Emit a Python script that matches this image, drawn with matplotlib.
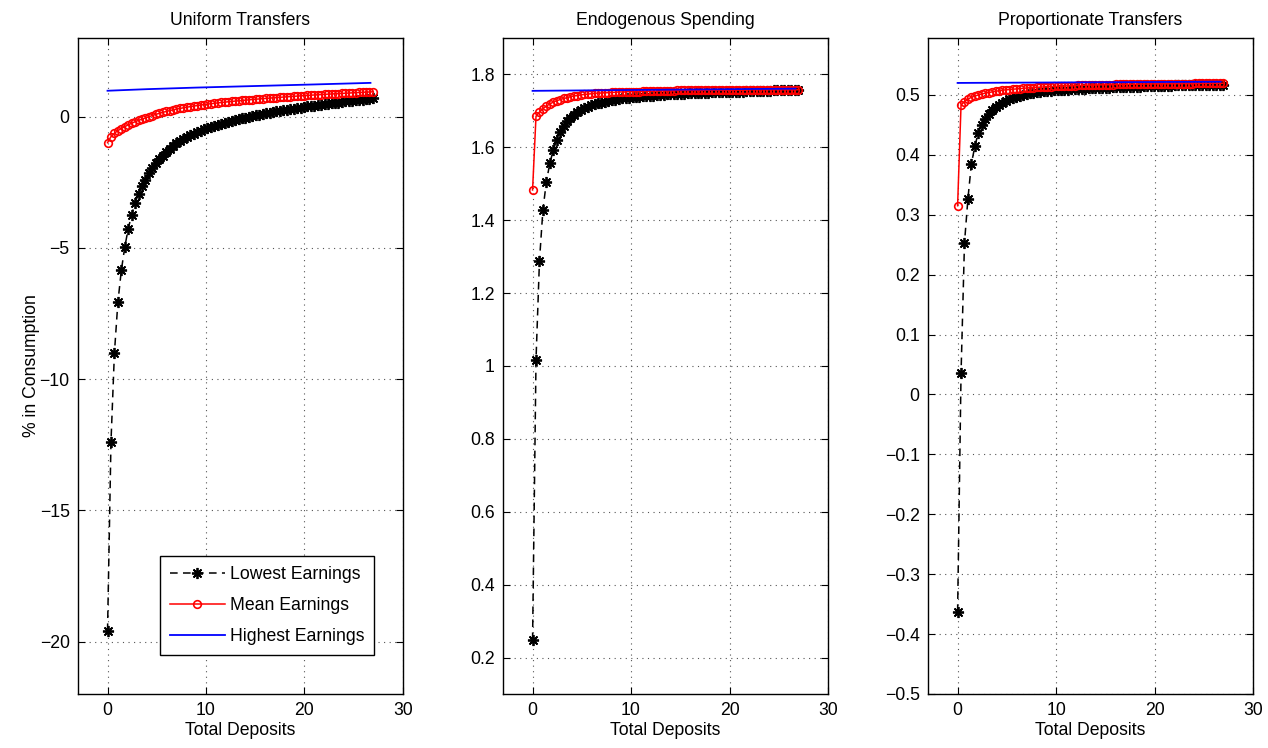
import numpy as np
import matplotlib
matplotlib.use("Agg")
import matplotlib.pyplot as plt
from matplotlib.ticker import FuncFormatter

plt.rcParams['font.family'] = ['Liberation Sans', 'DejaVu Sans']
plt.rcParams['axes.unicode_minus'] = True

# x grid: total deposits (same grid in all panels)
deposits = np.round(np.arange(0, 27.0, 0.35), 2)

titles = ["Uniform Transfers", "Endogenous Spending", "Proportionate Transfers"]
labels = ["Lowest Earnings", "Mean Earnings", "Highest Earnings"]

# Uniform Transfers
uni_low = [-19.6, -12.4, -9.0, -7.08, -5.86, -4.97, -4.27, -3.74, -3.28, -2.93,
           -2.65, -2.40, -2.15, -1.96, -1.78, -1.62, -1.48, -1.35, -1.23, -1.12,
           -1.02, -0.93, -0.85, -0.78, -0.71, -0.65, -0.59, -0.54, -0.48, -0.43,
           -0.39, -0.34, -0.30, -0.26, -0.23, -0.19, -0.16, -0.12, -0.09, -0.06,
           -0.03, 0.00, 0.03, 0.05, 0.08, 0.11, 0.13, 0.16, 0.18, 0.20,
           0.22, 0.25, 0.27, 0.29, 0.31, 0.33, 0.35, 0.37, 0.39, 0.41,
           0.42, 0.44, 0.46, 0.48, 0.49, 0.51, 0.53, 0.54, 0.56, 0.58,
           0.59, 0.61, 0.62, 0.64, 0.65, 0.67, 0.68, 0.70]
uni_mean = [-0.99, -0.76, -0.63, -0.53, -0.45, -0.38, -0.31, -0.25, -0.19, -0.14,
            -0.09, -0.045, 0.00, 0.045, 0.088, 0.128, 0.165, 0.20, 0.232, 0.262,
            0.29, 0.316, 0.34, 0.363, 0.385, 0.405, 0.425, 0.444, 0.462, 0.48,
            0.496, 0.512, 0.527, 0.542, 0.556, 0.57, 0.583, 0.596, 0.608, 0.62,
            0.632, 0.644, 0.656, 0.667, 0.678, 0.689, 0.70, 0.71, 0.72, 0.73,
            0.74, 0.75, 0.76, 0.769, 0.778, 0.787, 0.796, 0.805, 0.813, 0.821,
            0.829, 0.837, 0.845, 0.853, 0.861, 0.868, 0.875, 0.882, 0.889, 0.896,
            0.903, 0.91, 0.917, 0.924, 0.931, 0.938, 0.944, 0.95]
uni_high_x = [0, 4, 9, 15, 21, 26.7]
uni_high = [0.99, 1.05, 1.11, 1.17, 1.23, 1.29]

# Endogenous Spending
endo_low = [0.248, 1.017, 1.288, 1.428, 1.505, 1.556, 1.592, 1.620, 1.642, 1.658,
            1.671, 1.681, 1.689, 1.696, 1.702, 1.707, 1.711, 1.715, 1.718, 1.721,
            1.723, 1.725, 1.727, 1.729, 1.731, 1.732, 1.734, 1.735, 1.736, 1.737,
            1.738, 1.739, 1.740, 1.741, 1.742, 1.742, 1.743, 1.744, 1.744, 1.745,
            1.745, 1.746, 1.746, 1.747, 1.747, 1.748, 1.748, 1.749, 1.749, 1.750,
            1.750, 1.750, 1.751, 1.751, 1.751, 1.752, 1.752, 1.752, 1.753, 1.753,
            1.753, 1.753, 1.754, 1.754, 1.754, 1.754, 1.755, 1.755, 1.755, 1.755,
            1.756, 1.756, 1.756, 1.756, 1.756, 1.757, 1.757, 1.757]
endo_mean = [1.483, 1.685, 1.697, 1.706, 1.713, 1.719, 1.724, 1.728, 1.731, 1.734,
             1.736, 1.739, 1.741, 1.742, 1.744, 1.745, 1.746, 1.747, 1.748, 1.749,
             1.749, 1.750, 1.750, 1.751, 1.751, 1.752, 1.752, 1.752, 1.753, 1.753,
             1.753, 1.753, 1.754, 1.754, 1.754, 1.754, 1.754, 1.755, 1.755, 1.755,
             1.755, 1.755, 1.756, 1.756, 1.756, 1.756, 1.756, 1.756, 1.756, 1.756,
             1.757, 1.757, 1.757, 1.757, 1.757, 1.757, 1.757, 1.757, 1.757, 1.757,
             1.757, 1.757, 1.757, 1.758, 1.758, 1.758, 1.758, 1.758, 1.758, 1.758,
             1.758, 1.758, 1.758, 1.758, 1.758, 1.758, 1.758, 1.758]
endo_high_x = [0, 13, 26.7]
endo_high = [1.755, 1.758, 1.761]

# Proportionate Transfers
prop_low = [-0.363, 0.035, 0.253, 0.327, 0.385, 0.414, 0.437, 0.450, 0.460, 0.468,
            0.474, 0.479, 0.483, 0.487, 0.490, 0.4925, 0.495, 0.497, 0.499, 0.5005,
            0.502, 0.503, 0.504, 0.505, 0.5055, 0.506, 0.5065, 0.507, 0.5075, 0.508,
            0.5083, 0.5086, 0.509, 0.5093, 0.5096, 0.510, 0.5102, 0.5105, 0.5108, 0.511,
            0.5112, 0.5115, 0.5117, 0.512, 0.5122, 0.5124, 0.5126, 0.5128, 0.513, 0.5132,
            0.5134, 0.5136, 0.5138, 0.514, 0.5142, 0.5144, 0.5146, 0.5148, 0.515, 0.5152,
            0.5153, 0.5155, 0.5156, 0.5158, 0.5159, 0.516, 0.5162, 0.5163, 0.5164, 0.5165,
            0.5166, 0.5167, 0.5168, 0.5169, 0.517, 0.5171, 0.5172, 0.5173]
prop_mean = [0.315, 0.483, 0.489, 0.493, 0.496, 0.498, 0.500, 0.5015, 0.503, 0.504,
             0.505, 0.506, 0.507, 0.508, 0.5085, 0.509, 0.5095, 0.510, 0.5105, 0.511,
             0.5115, 0.512, 0.5123, 0.5126, 0.513, 0.5133, 0.5136, 0.514, 0.5142, 0.5145,
             0.5148, 0.515, 0.5152, 0.5154, 0.5156, 0.5158, 0.516, 0.5162, 0.5164, 0.5165,
             0.5167, 0.5168, 0.517, 0.5171, 0.5172, 0.5173, 0.5174, 0.5175, 0.5176, 0.5177,
             0.5178, 0.5179, 0.518, 0.5181, 0.5182, 0.5183, 0.5184, 0.5185, 0.5186, 0.5186,
             0.5187, 0.5187, 0.5188, 0.5188, 0.5189, 0.5189, 0.519, 0.519, 0.519, 0.5191,
             0.5191, 0.5192, 0.5192, 0.5193, 0.5193, 0.5194, 0.5194, 0.5195]
prop_high_x = [0, 13, 26.7]
prop_high = [0.520, 0.521, 0.522]

panels = [
    (uni_low, uni_mean, uni_high_x, uni_high, (-22, 3), [-20, -15, -10, -5, 0]),
    (endo_low, endo_mean, endo_high_x, endo_high, (0.1, 1.9),
     [0.2, 0.4, 0.6, 0.8, 1.0, 1.2, 1.4, 1.6, 1.8]),
    (prop_low, prop_mean, prop_high_x, prop_high, (-0.5, 0.595),
     [-0.5, -0.4, -0.3, -0.2, -0.1, 0.0, 0.1, 0.2, 0.3, 0.4, 0.5]),
]


def _tick(v, pos):
    if abs(v) < 1e-9:
        return '0'
    return ('%g' % round(v, 6)).replace('-', '\u2212')


fig = plt.figure(figsize=(12.68, 7.48), dpi=100)
lefts = [0.0615, 0.3967, 0.7319]
fs = 12.7
for i, (low, mean, hx, high, ylim, yticks) in enumerate(panels):
    ax = fig.add_axes([lefts[i], 0.0722, 0.2563, 0.877])
    ax.plot(deposits, low, color='k', ls=(0, (5, 3.5)), lw=1.1,
            marker=(8, 2, 0), ms=8, mew=1.3, label=labels[0])
    ax.plot(deposits, mean, color='r', ls='-', lw=1.1, marker='o', ms=5.5,
            mfc='none', mew=1.2, label=labels[1])
    ax.plot(hx, high, color='b', lw=1.3, label=labels[2])
    ax.set_xlim(-3, 30)
    ax.set_xticks([0, 10, 20, 30])
    ax.set_ylim(*ylim)
    ax.set_yticks(yticks)
    ax.yaxis.set_major_formatter(FuncFormatter(_tick))
    ax.xaxis.set_major_formatter(FuncFormatter(_tick))
    ax.grid(True, color='#555555', ls=(0, (1, 4)), lw=0.8)
    ax.tick_params(direction='in', top=True, right=True, length=5, width=0.8,
                   labelsize=fs, pad=6)
    for s in ax.spines.values():
        s.set_linewidth(1.0)
    ax.set_title(titles[i], fontsize=fs, pad=9)
    ax.set_xlabel("Total Deposits", fontsize=fs, labelpad=2)
    if i == 0:
        ax.set_ylabel("% in Consumption", fontsize=fs, labelpad=0)
        leg = ax.legend(loc='lower right', bbox_to_anchor=(0.911, 0.0595),
                        borderaxespad=0, fontsize=fs, handlelength=3.1,
                        handletextpad=0.3, fancybox=False, framealpha=1,
                        edgecolor='k', labelspacing=0.8, borderpad=0.55)
        leg.get_frame().set_linewidth(1.0)

fig.savefig("out.png", dpi=100)
